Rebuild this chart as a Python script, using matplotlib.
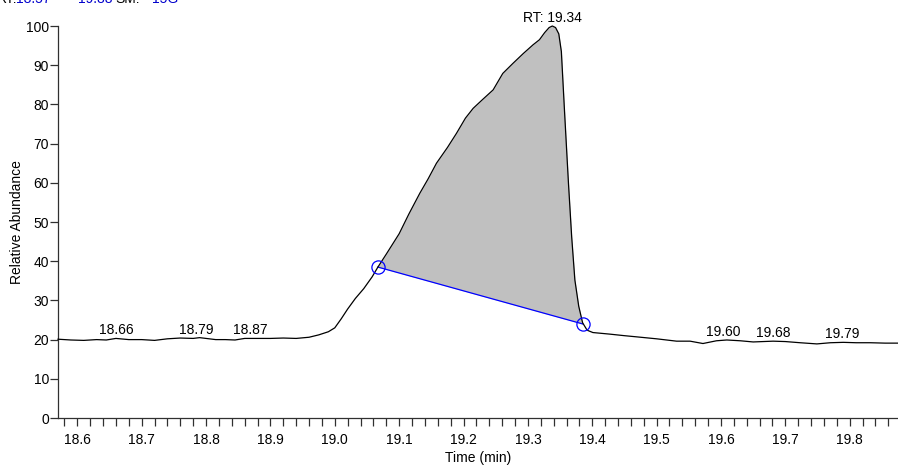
import numpy as np
import matplotlib
matplotlib.use("Agg")
import matplotlib.pyplot as plt

plt.rcParams['font.family'] = ['Liberation Sans', 'DejaVu Sans']

# ---- data ----
time_min = [18.570, 18.590, 18.610, 18.630, 18.645, 18.660, 18.680, 18.700, 18.720, 18.740,
            18.760, 18.780, 18.790, 18.800, 18.815, 18.830, 18.845, 18.860, 18.875, 18.900,
            18.920, 18.940, 18.960, 18.975, 18.990, 19.000, 19.010, 19.020, 19.032, 19.045,
            19.058, 19.067, 19.080, 19.100, 19.115, 19.132, 19.145, 19.158, 19.175, 19.189,
            19.203, 19.215, 19.230, 19.246, 19.261, 19.277, 19.293, 19.308, 19.318, 19.326,
            19.333, 19.338, 19.343, 19.348, 19.352, 19.357, 19.363, 19.368, 19.373, 19.379,
            19.385, 19.392, 19.401, 19.427, 19.450, 19.469, 19.500, 19.531, 19.552, 19.572,
            19.593, 19.609, 19.630, 19.650, 19.681, 19.700, 19.723, 19.749, 19.770, 19.790,
            19.810, 19.832, 19.855, 19.876]
abundance = [20.1, 19.9, 19.8, 20.0, 19.9, 20.3, 20.0, 20.0, 19.8, 20.2,
             20.4, 20.3, 20.5, 20.3, 20.0, 20.0, 19.9, 20.3, 20.3, 20.3,
             20.4, 20.3, 20.6, 21.2, 22.0, 23.0, 25.3, 27.8, 30.5, 33.0,
             36.0, 38.5, 41.8, 47.0, 52.0, 57.3, 61.0, 65.0, 69.0, 72.6,
             76.5, 79.0, 81.3, 83.7, 87.9, 90.5, 93.0, 95.2, 96.5, 98.3,
             99.6, 100.0, 99.6, 98.0, 93.5, 78.0, 60.0, 46.3, 35.2, 28.5,
             24.3, 22.4, 21.8, 21.4, 21.0, 20.7, 20.2, 19.6, 19.6, 19.0,
             19.7, 19.9, 19.7, 19.4, 19.6, 19.5, 19.2, 18.9, 19.2, 19.3,
             19.2, 19.2, 19.1, 19.1]

peak_start = (19.067, 38.5)
peak_end = (19.385, 24.0)

label_times = [18.66, 18.785, 18.868, 19.338, 19.603, 19.681, 19.789]
label_texts = ["18.66", "18.79", "18.87", "RT: 19.34", "19.60", "19.68", "19.79"]

xlim = (18.57, 19.875)
ylim = (0, 100)
yticks = list(range(0, 101, 10))
xmajor = [18.6, 18.7, 18.8, 18.9, 19.0, 19.1, 19.2, 19.3, 19.4, 19.5, 19.6, 19.7, 19.8]

FS = 10

# ---- figure ----
W, H = 898, 470
fig = plt.figure(figsize=(W / 100, H / 100), dpi=100)
ax = fig.add_axes([58 / W, (H - 418) / H, (W - 58) / W, (418 - 26) / H])

t = np.array(time_min)
a = np.array(abundance)

# fill between curve and baseline line
mask = (t >= peak_start[0]) & (t <= peak_end[0])
ft = np.concatenate([[peak_start[0]], t[mask], [peak_end[0]]])
fa = np.interp(ft, t, a)
fa[0] = peak_start[1]
fa[-1] = peak_end[1]
base = np.interp(ft, [peak_start[0], peak_end[0]], [peak_start[1], peak_end[1]])
ax.fill_between(ft, base, fa, color='#C0C0C0', linewidth=0, zorder=1)

ax.plot(t, a, color='black', lw=0.9, zorder=3, clip_on=False)
ax.plot([peak_start[0], peak_end[0]], [peak_start[1], peak_end[1]], color='#0000FF', lw=0.9, zorder=2)
ax.plot([peak_start[0], peak_end[0]], [peak_start[1], peak_end[1]], ls='none', marker='o',
        ms=9.5, mfc='none', mec='#0000FF', mew=0.9, zorder=4, clip_on=False)

for lt, txt in zip(label_times, label_texts):
    yv = np.interp(lt, t, a)
    ax.annotate(txt, xy=(lt, yv), xytext=(0, 3.0), textcoords='offset points',
                ha='center', va='baseline', fontsize=FS, color='black', annotation_clip=False)

ax.set_xlim(*xlim)
ax.set_ylim(*ylim)
ax.spines['top'].set_visible(False)
ax.spines['right'].set_visible(False)
for s in ['left', 'bottom']:
    ax.spines[s].set_color('#303030')
    ax.spines[s].set_linewidth(0.9)

ax.set_yticks(yticks)
ax.set_yticklabels([str(v) for v in yticks])
ax.set_xticks(xmajor)
ax.set_xticklabels([f"{v:.1f}" for v in xmajor])
ax.set_xticks(np.arange(18.58, 19.875, 0.02), minor=True)
ax.tick_params(axis='y', direction='out', length=5.5, width=0.9, pad=1, labelsize=FS, color='#303030')
ax.tick_params(axis='x', which='both', direction='out', length=5.5, width=0.9, pad=5, labelsize=FS, color='#303030')

ax.set_xlabel("Time (min)", fontsize=FS, labelpad=3)
ax.set_ylabel("Relative Abundance", fontsize=FS, labelpad=1)

# clipped header
yb = 1 - 3 / H
for x, txt, col in [(-3, "RT:", "black"), (16, "18.57", "#0000CC"), (60, "-", "#0000CC"),
                    (78, "19.88", "#0000CC"), (115, "SM:", "black"), (152, "15G", "#0000CC")]:
    fig.text(x / W, yb, txt, color=col, fontsize=FS, va='baseline', ha='left')

fig.savefig("out.png", dpi=100)
